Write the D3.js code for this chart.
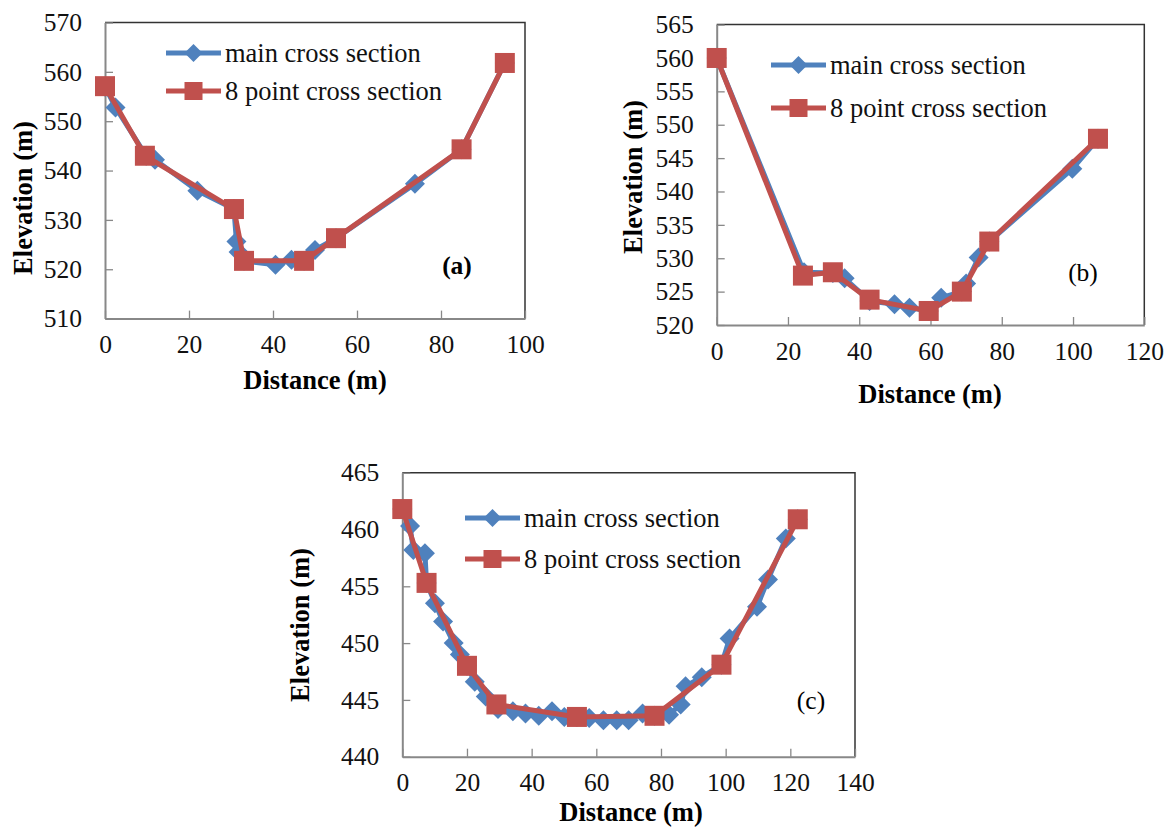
<!DOCTYPE html>
<html>
<head>
<meta charset="utf-8">
<script src="https://cdn.jsdelivr.net/npm/d3@7"></script>
<style>
  body { margin: 0; background: #fff; }
  svg { display: block; }
</style>
</head>
<body>
<svg id="chart" width="1168" height="836"></svg>
<script>
// ---- data (distance m, elevation m) ----
var aMain = [[0,557],[2.5,552.8],[9.8,543],[11.9,542.2],[22,535.9],[30.7,532.2],[31.3,525.6],[31.8,523.5],
             [33.1,521.7],[40.6,520.9],[44.4,521.9],[47.4,521.7],[50,523.9],[55,526.3],[73.8,537.3],[84.9,544.3],[95.2,561.8]];
var aEight = [[0,557.1],[9.5,543],[30.7,532.2],[33.1,521.7],[47.4,521.7],[55,526.3],[84.9,544.3],[95.2,561.8]];

var bMain = [[0,560],[24.5,527.9],[32.6,527.8],[35.9,527],[42.9,523.6],[49.9,523.1],[54.1,522.6],[59.5,522.1],
             [63,524.1],[68.8,525],[70,526.2],[73.5,530.1],[76.5,532.5],[99.8,543.4],[107,547.9]];
var bEight = [[0,560],[24.2,527.4],[32.6,527.9],[42.9,523.8],[59.5,522.1],[68.8,525],[76.5,532.5],[107,547.9]];

var cMain = [[0,461.8],[2.4,460.3],[3.4,458.2],[7,457.9],[7.5,455.3],[10.1,453.5],[12.6,451.9],[15.9,450],[17.8,449],
             [20,448],[22.4,446.6],[25.8,445.3],[29.6,444.2],[34.2,444],[38.1,443.8],[42.2,443.6],[46.3,444],[50.1,443.5],
             [54,443.5],[57.8,443.4],[62.2,443.2],[66.3,443.2],[70,443.2],[74.3,443.8],[78,443.6],[82.5,443.7],[86.1,444.6],
             [87.6,446.2],[92.6,447],[98.7,448.1],[101.2,450.4],[109.7,453.2],[113.1,455.6],[118.6,459.2],[122.3,460.9]];
var cEight = [[0,461.8],[7.5,455.3],[20,448],[29.1,444.6],[54,443.5],[78,443.6],[98.7,448.1],[122.3,460.9]];

var seriesNames = ["main cross section", "8 point cross section"];
var aXTicks = [0,20,40,60,80,100],     aYTicks = [510,520,530,540,550,560,570];
var bXTicks = [0,20,40,60,80,100,120], bYTicks = [520,525,530,535,540,545,550,555,560,565];
var cXTicks = [0,20,40,60,80,100,120,140], cYTicks = [440,445,450,455,460,465];

var blue = "#4F81BD", red = "#C0504D";
var FONT = "Liberation Serif";

// panel layout
var panels = [
  { main: aMain, eight: aEight, xt: aXTicks, yt: aYTicks,
    left: 105, right: 525, top: 22.5, bottom: 318.6,
    xLabel: [315, 389], yLabel: [23, 198], legend: [166, 53], gap: 38, tag: "(a)", tagPos: [457, 274], tagBold: true },
  { main: bMain, eight: bEight, xt: bXTicks, yt: bYTicks,
    left: 716.7, right: 1144.3, top: 24.6, bottom: 325,
    xLabel: [930, 403], yLabel: [633, 177], legend: [771, 65], gap: 43, tag: "(b)", tagPos: [1083, 281], tagBold: false },
  { main: cMain, eight: cEight, xt: cXTicks, yt: cYTicks,
    left: 402.3, right: 855, top: 472.7, bottom: 756.7,
    xLabel: [631, 821], yLabel: [300, 625], legend: [465, 518], gap: 41, tag: "(c)", tagPos: [811, 709], tagBold: false }
];

var svg = d3.select("#chart").attr("font-family", FONT);

function diamond(sel, s) {
  return sel.attr("d", "M0," + (-s) + "L" + s + ",0L0," + s + "L" + (-s) + ",0Z");
}

panels.forEach(function(p) {
  var x = d3.scaleLinear().domain([p.xt[0], p.xt[p.xt.length - 1]]).range([p.left, p.right]);
  var y = d3.scaleLinear().domain([p.yt[0], p.yt[p.yt.length - 1]]).range([p.bottom, p.top]);
  var g = svg.append("g").attr("font-family", FONT);

  // frame (top/right)
  g.append("path")
    .attr("d", "M" + p.left + "," + p.top + "H" + p.right + "V" + p.bottom)
    .attr("fill", "none").attr("stroke", "#333").attr("stroke-width", 1.5);

  // axes, ticks point inward
  var xa = g.append("g").attr("transform", "translate(0," + p.bottom + ")")
    .call(d3.axisBottom(x).tickValues(p.xt).tickSizeInner(-8).tickSizeOuter(0).tickPadding(22));
  var ya = g.append("g").attr("transform", "translate(" + p.left + ",0)")
    .call(d3.axisLeft(y).tickValues(p.yt).tickSizeInner(-8).tickSizeOuter(0).tickPadding(23));
  [xa, ya].forEach(function(a) {
    a.attr("font-family", FONT).attr("font-size", 25.5);
    a.select(".domain").attr("stroke", "#888").attr("stroke-width", 2);
    a.selectAll(".tick line").attr("stroke", "#888").attr("stroke-width", 1.3);
    a.selectAll(".tick text").attr("fill", "#111").style("font-family", FONT).style("font-size", "25.5px");
  });
  xa.selectAll(".tick text").attr("dy", "0.5em");
  ya.selectAll(".tick text").attr("x", -23);

  var line = d3.line().x(function(d) { return x(d[0]); }).y(function(d) { return y(d[1]); });

  // main cross section
  g.append("path").datum(p.main).attr("d", line)
    .attr("fill", "none").attr("stroke", blue).attr("stroke-width", 5).attr("stroke-linejoin", "round");
  g.selectAll(".dm").data(p.main).enter().append("path")
    .call(diamond, 10)
    .attr("transform", function(d) { return "translate(" + x(d[0]) + "," + y(d[1]) + ")"; })
    .attr("fill", blue);

  // 8 point cross section
  g.append("path").datum(p.eight).attr("d", line)
    .attr("fill", "none").attr("stroke", red).attr("stroke-width", 5).attr("stroke-linejoin", "round");
  g.selectAll(".sq").data(p.eight).enter().append("rect")
    .attr("x", function(d) { return x(d[0]) - 10; })
    .attr("y", function(d) { return y(d[1]) - 10; })
    .attr("width", 20).attr("height", 20)
    .attr("fill", red);

  // axis titles
  g.append("text").attr("x", p.xLabel[0]).attr("y", p.xLabel[1])
    .attr("text-anchor", "middle").attr("font-weight", "bold").attr("font-size", 26.5)
    .style("font-family", FONT)
    .text("Distance (m)");
  g.append("text")
    .attr("transform", "translate(" + (p.yLabel[0] + 9) + "," + p.yLabel[1] + ") rotate(-90)")
    .attr("text-anchor", "middle").attr("font-weight", "bold").attr("font-size", 26.5)
    .style("font-family", FONT)
    .text("Elevation (m)");

  // legend
  var lg = g.append("g").attr("transform", "translate(" + p.legend[0] + "," + p.legend[1] + ")");
  [blue, red].forEach(function(col, i) {
    var row = lg.append("g").attr("transform", "translate(0," + (i * p.gap) + ")");
    row.append("line").attr("x1", 0).attr("x2", 55).attr("stroke", col).attr("stroke-width", 5);
    if (i === 0) {
      row.append("path").call(diamond, 9).attr("transform", "translate(27.5,0)").attr("fill", col);
    } else {
      row.append("rect").attr("x", 18.5).attr("y", -9).attr("width", 18).attr("height", 18).attr("fill", col);
    }
    row.append("text").attr("x", 59).attr("y", 9).attr("font-size", 26.5).attr("fill", "#111")
      .style("font-family", FONT)
      .text(seriesNames[i]);
  });

  // panel tag
  g.append("text").attr("x", p.tagPos[0]).attr("y", p.tagPos[1])
    .attr("text-anchor", "middle").attr("font-size", 25.5)
    .attr("font-weight", p.tagBold ? "bold" : "normal")
    .style("font-family", FONT)
    .text(p.tag);
});
</script>
</body>
</html>
